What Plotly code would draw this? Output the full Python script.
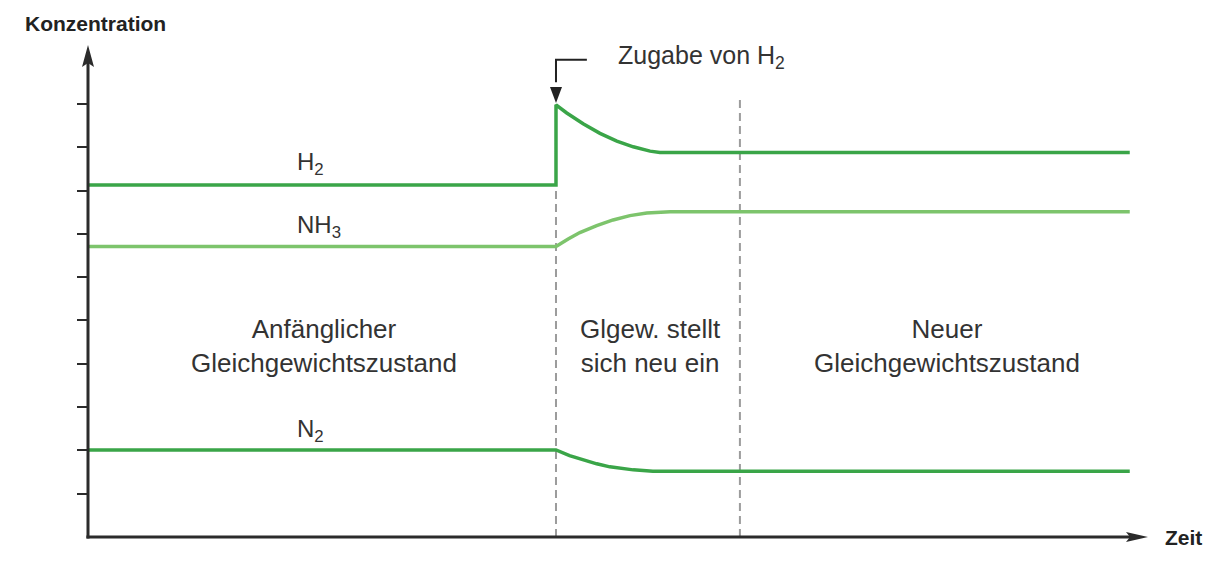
import plotly.graph_objects as go

# ---- data (time in arbitrary units, concentration in tick units) ----
h2_t = [0, 10.0, 10.0, 10.23, 10.58, 10.94, 11.30, 11.65, 12.01, 12.22, 22.26]
h2_c = [8.13, 8.13, 9.98, 9.79, 9.54, 9.32, 9.14, 9.01, 8.91, 8.88, 8.88]

nh3_t = [0, 10.0, 10.26, 10.51, 10.87, 11.22, 11.58, 11.94, 12.44, 22.26]
nh3_c = [6.71, 6.71, 6.88, 7.03, 7.19, 7.32, 7.42, 7.48, 7.51, 7.51]

n2_t = [0, 10.0, 10.29, 10.58, 10.87, 11.15, 11.65, 12.07, 22.26]
n2_c = [2.01, 2.01, 1.88, 1.78, 1.69, 1.62, 1.55, 1.52, 1.52]

event_times = [10.0, 13.93]          # H2 addition, new equilibrium reached
event_tops = [8.13, 10.2]

y_ticks = [1, 2, 3, 4, 5, 6, 7, 8, 9, 10]

x_range = [0, 22.65]
y_range = [0, 11.36]

DARK = "#2b2b2b"
GREEN = "#3aa548"
LIGHT = "#7dc46c"
FONT = "Liberation Sans, Arial, sans-serif"

fig = go.Figure()
for t, c, col in [(h2_t, h2_c, GREEN), (nh3_t, nh3_c, LIGHT), (n2_t, n2_c, GREEN)]:
    fig.add_trace(go.Scatter(x=t, y=c, mode="lines", line=dict(color=col, width=3.5),
                             hoverinfo="skip", showlegend=False))

shapes = []
# dashed event lines
for t, top in zip(event_times, event_tops):
    shapes.append(dict(type="line", xref="x", yref="y", x0=t, x1=t, y0=0, y1=top,
                       line=dict(color="#9c9c9c", width=2, dash="8px,5px"), layer="below"))
# axes lines
shapes.append(dict(type="line", xref="paper", yref="paper", x0=-0.0015, x1=0.985, y0=0, y1=0,
                   line=dict(color=DARK, width=3)))
shapes.append(dict(type="line", xref="paper", yref="paper", x0=0, x1=0, y0=-0.003, y1=0.97,
                   line=dict(color=DARK, width=3)))
# arrowheads (pixel-sized paths)
shapes.append(dict(type="path", xref="paper", yref="paper", xsizemode="pixel", ysizemode="pixel",
                   xanchor=0, yanchor=1, path="M0,0 L-6,-22 L0,-18 L6,-22 Z",
                   fillcolor=DARK, line=dict(width=0)))
shapes.append(dict(type="path", xref="paper", yref="paper", xsizemode="pixel", ysizemode="pixel",
                   xanchor=1, yanchor=0, path="M0,0 L-22,5 L-18,0 L-22,-5 Z",
                   fillcolor=DARK, line=dict(width=0)))
# "Zugabe" bracket: horizontal + vertical segment + arrowhead
shapes.append(dict(type="path", xref="x", yref="y",
                   path=f"M10.66,11.02 L{event_times[0]},11.02 L{event_times[0]},10.5",
                   line=dict(color="#222", width=2)))
shapes.append(dict(type="path", xref="x", yref="y", xsizemode="pixel", ysizemode="pixel",
                   xanchor=event_times[0], yanchor=10.02, path="M0,0 L-6,16 L6,16 Z",
                   fillcolor="#222", line=dict(width=0)))

annotations = [
    dict(x=11.28, y=11.09, xref="x", yref="y", text="Zugabe von H<sub>2</sub>", showarrow=False,
         xanchor="left", yanchor="middle", font=dict(size=25, color="#333", family=FONT)),
    dict(x=-0.0613, y=1.0447, xref="paper", yref="paper", text="<b>Konzentration</b>", showarrow=False,
         xanchor="left", yanchor="middle", font=dict(size=21, color="#222", family=FONT)),
    dict(x=1.0142, y=-0.002, xref="paper", yref="paper", text="<b>Zeit</b>", showarrow=False,
         xanchor="left", yanchor="middle", font=dict(size=21, color="#222", family=FONT)),
    dict(x=4.42, y=8.62, xref="x", yref="y", text="H<sub>2</sub>", showarrow=False,
         xanchor="left", yanchor="middle", font=dict(size=24, color="#333", family=FONT)),
    dict(x=4.42, y=7.17, xref="x", yref="y", text="NH<sub>3</sub>", showarrow=False,
         xanchor="left", yanchor="middle", font=dict(size=24, color="#333", family=FONT)),
    dict(x=4.42, y=2.47, xref="x", yref="y", text="N<sub>2</sub>", showarrow=False,
         xanchor="left", yanchor="middle", font=dict(size=24, color="#333", family=FONT)),
]

region_labels = [
    (5.05, "Anfänglicher<br>Gleichgewichtszustand"),
    (12.01, "Glgew. stellt<br>sich neu ein"),
    (18.35, "Neuer<br>Gleichgewichtszustand"),
]
for x, txt in region_labels:
    annotations.append(dict(x=x, y=4.42, xref="x", yref="y", text=txt, showarrow=False,
                            xanchor="center", yanchor="middle", align="center",
                            font=dict(size=26, color="#333", family=FONT)))

fig.update_layout(
    width=1217, height=566,
    margin=dict(l=80, r=77, t=37, b=37),
    paper_bgcolor="white", plot_bgcolor="white",
    xaxis=dict(range=x_range, showgrid=False, zeroline=False, showline=False,
               showticklabels=False, ticks=""),
    yaxis=dict(range=y_range, showgrid=False, zeroline=False, showline=False,
               showticklabels=False, ticks="outside", ticklen=10, tickwidth=2,
               tickcolor=DARK, tickvals=y_ticks),
    shapes=shapes, annotations=annotations,
)

fig.write_html("out.html")
